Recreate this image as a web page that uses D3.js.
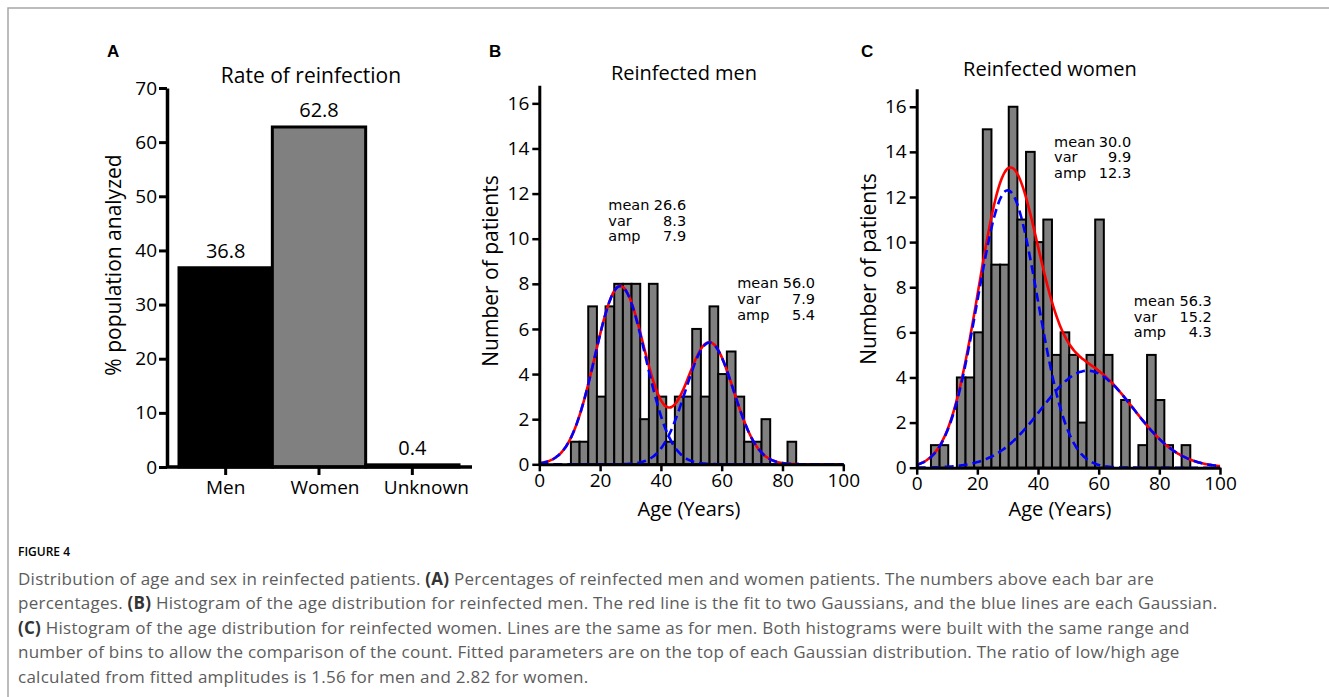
<!DOCTYPE html>
<html>
<head>
  <meta charset="utf-8">
  <title>Figure 4 - reinfection by age and sex</title>
  <script src="https://cdnjs.cloudflare.com/ajax/libs/d3/7.8.5/d3.min.js"></script>
</head>
<style>
  body { margin: 0; background: #fff; }
  svg { display: block; }
  text { font-family: "Open Sans", sans-serif; fill: #000; }
  .axis path, .axis line { stroke: #000; }
  .axis text { font-size: 19px; font-family: "Open Sans", sans-serif; }
  .note text { font-family: "DejaVu Sans", sans-serif; font-size: 14.5px; }
  .letter { font-family: "Liberation Sans", Arial, sans-serif; font-weight: bold; font-size: 17px; }
  .caption { font-size: 17px; letter-spacing: 0.25px; fill: #5c5c5c; }
</style>
<body>
<svg id="svg" width="1329" height="697"></svg>
<script type="text/javascript">
  // panel A
  const categories = ['Men', 'Women', 'Unknown'];
  const rates = [36.8, 62.8, 0.4];
  const rateTicks = [0, 10, 20, 30, 40, 50, 60, 70];

  // panels B and C: same 30 bins for both sexes
  const binEdges = [4.7, 7.55, 10.4, 13.25, 16.1, 18.95, 21.8, 24.65, 27.5, 30.35, 33.2,
    36.05, 38.9, 41.75, 44.6, 47.45, 50.3, 53.15, 56.0, 58.85, 61.7, 64.55, 67.4, 70.25,
    73.1, 75.95, 78.8, 81.65, 84.5, 87.35, 90.2];
  const menCounts = [0, 0, 1, 1, 7, 3, 7, 8, 8, 8, 2, 8, 3, 1, 3, 3, 6, 3, 7, 4, 5, 3, 1, 1, 2, 0, 0, 1, 0, 0];
  const womenCounts = [1, 1, 0, 4, 4, 6, 15, 9, 9, 16, 11, 14, 10, 11, 5, 6, 5, 2, 5, 11, 5, 0, 3, 0, 1, 5, 3, 1, 0, 1];
  const menFit = [{ mean: 26.6, sd: 8.3, amp: 7.9 }, { mean: 56.0, sd: 7.9, amp: 5.4 }];
  const womenFit = [{ mean: 30.0, sd: 9.9, amp: 12.3 }, { mean: 56.3, sd: 15.2, amp: 4.3 }];
  const ageTicks = [0, 20, 40, 60, 80, 100];
  const countTicks = [0, 2, 4, 6, 8, 10, 12, 14, 16];

  const captionLines = [
    [['Distribution of age and sex in reinfected patients. ', 0], ['(A)', 1], [' Percentages of reinfected men and women patients. The numbers above each bar are', 0]],
    [['percentages. ', 0], ['(B)', 1], [' Histogram of the age distribution for reinfected men. The red line is the fit to two Gaussians, and the blue lines are each Gaussian.', 0]],
    [['(C)', 1], [' Histogram of the age distribution for reinfected women. Lines are the same as for men. Both histograms were built with the same range and', 0]],
    [['number of bins to allow the comparison of the count. Fitted parameters are on the top of each Gaussian distribution. The ratio of low/high age', 0]],
    [['calculated from fitted amplitudes is 1.56 for men and 2.82 for women.', 0]]
  ];

  const svg = d3.select('svg');

  // frame round the figure
  svg.append('path')
    .attr('d', 'M8,697V8H1329')
    .attr('fill', 'none')
    .attr('stroke', '#a6a6a6')
    .attr('stroke-width', 1.5);

  function styleAxis(g, w) {
    g.attr('class', 'axis');
    g.select('.domain').attr('stroke-width', w);
    g.selectAll('.tick line').attr('stroke-width', w - 0.5);
  }

  // ---------- A: bars ----------
  const yA = d3.scaleLinear().domain([0, 70]).range([467, 88]);
  const xA = d3.scaleBand().domain(categories).range([179, 459]).padding(0);
  const colA = { Men: '#000', Women: '#808080', Unknown: '#000' };
  const labelShift = { Men: 0, Women: 6, Unknown: 14 };

  svg.append('g').selectAll('rect')
    .data(rates)
    .enter()
    .append('rect')
    .attr('x', (d, i) => xA(categories[i]))
    .attr('width', xA.bandwidth())
    .attr('y', d => yA(d))
    .attr('height', d => yA(0) - yA(d))
    .attr('fill', (d, i) => colA[categories[i]])
    .attr('stroke', '#000')
    .attr('stroke-width', 3);

  svg.append('g').selectAll('text')
    .data(rates)
    .enter()
    .append('text')
    .attr('x', (d, i) => xA(categories[i]) + xA.bandwidth() / 2)
    .attr('y', d => yA(d) - 10)
    .attr('text-anchor', 'middle')
    .attr('font-size', 20)
    .text(d => d.toFixed(1));

  const gyA = svg.append('g').attr('transform', 'translate(167,0)')
    .call(d3.axisLeft(yA).tickValues(rateTicks).tickSize(8).tickSizeOuter(0).tickPadding(2));
  styleAxis(gyA, 3.5);
  gyA.selectAll('text').attr('font-size', 21);

  const gxA = svg.append('g').attr('transform', 'translate(0,467)')
    .call(d3.axisBottom(xA).tickSize(8).tickSizeOuter(0).tickPadding(6));
  styleAxis(gxA, 3.5);
  gxA.select('.domain').attr('d', 'M167,0H472');
  gxA.selectAll('text').attr('font-size', 20).attr('dx', d => labelShift[d]);

  svg.append('text').attr('x', 311).attr('y', 83).attr('text-anchor', 'middle')
    .attr('font-size', 21).text('Rate of reinfection');
  svg.append('text').attr('transform', 'translate(121,265) rotate(-90)').attr('text-anchor', 'middle')
    .attr('font-size', 21).text('% population analyzed');

  // ---------- B and C: histograms ----------
  const gauss = (p, a) => p.amp * Math.exp(-((a - p.mean) ** 2) / (2 * p.sd * p.sd));
  const curveAges = d3.range(0, 100.001, 0.5);

  function histogram(opt) {
    const x = d3.scaleLinear().domain([0, 100]).range([opt.left, opt.right]);
    const y = d3.scaleLinear().domain([0, 16.8]).range([opt.bottom, opt.top]);
    const g = svg.append('g');

    const bins = opt.counts.map((c, i) => ({ x0: binEdges[i], x1: binEdges[i + 1], c: c }))
      .filter(d => d.c > 0);
    g.selectAll('rect')
      .data(bins)
      .enter()
      .append('rect')
      .attr('x', d => x(d.x0))
      .attr('width', d => x(d.x1) - x(d.x0))
      .attr('y', d => y(d.c))
      .attr('height', d => y(0) - y(d.c))
      .attr('fill', '#808080')
      .attr('stroke', '#000')
      .attr('stroke-width', 2);

    const line = d3.line().x(d => x(d[0])).y(d => y(d[1])).curve(d3.curveBasis);
    g.append('path')
      .datum(curveAges.map(a => [a, d3.sum(opt.fit, p => gauss(p, a))]))
      .attr('d', line)
      .attr('fill', 'none')
      .attr('stroke', '#ff0000')
      .attr('stroke-width', 2.6);
    opt.fit.forEach(p => {
      g.append('path')
        .datum(curveAges.map(a => [a, gauss(p, a)]))
        .attr('d', line)
        .attr('fill', 'none')
        .attr('stroke', '#0000ff')
        .attr('stroke-width', 2.6)
        .attr('stroke-dasharray', '9,5');
    });

    const gx = svg.append('g').attr('transform', `translate(0,${opt.bottom})`)
      .call(d3.axisBottom(x).tickValues(ageTicks).tickSize(7).tickSizeOuter(0).tickPadding(2));
    styleAxis(gx, 3);
    const gy = svg.append('g').attr('transform', `translate(${opt.left},0)`)
      .call(d3.axisLeft(y).tickValues(countTicks).tickSize(7).tickSizeOuter(0).tickPadding(3));
    styleAxis(gy, 3);

    // fitted parameters over each gaussian
    opt.fit.forEach((p, k) => {
      const n = opt.notes[k];
      const rows = [['mean', p.mean.toFixed(1)], ['var', p.sd.toFixed(1)], ['amp', p.amp.toFixed(1)]];
      const gn = g.append('g').attr('class', 'note');
      rows.forEach((r, j) => {
        gn.append('text').attr('x', x(n.x0)).attr('y', y(n.y) + j * 15.6).text(r[0]);
        gn.append('text').attr('x', x(n.x1)).attr('y', y(n.y) + j * 15.6)
          .attr('text-anchor', 'end').text(r[1]);
      });
    });

    svg.append('text').attr('x', opt.titleX).attr('y', opt.titleY).attr('text-anchor', 'middle')
      .attr('font-size', 20).text(opt.title);
    svg.append('text').attr('x', opt.xlabX).attr('y', 516).attr('text-anchor', 'middle')
      .attr('font-size', 20).text('Age (Years)');
    svg.append('text').attr('transform', `translate(${opt.ylabX},${opt.ylabY}) rotate(-90)`)
      .attr('text-anchor', 'middle').attr('font-size', 21).text('Number of patients');
  }

  histogram({
    left: 539.3, right: 843.3, top: 85.3, bottom: 464.3, counts: menCounts, fit: menFit,
    notes: [{ x0: 22.7, x1: 48.3, y: 11.27 }, { x0: 65.1, x1: 90.7, y: 7.8 }],
    title: 'Reinfected men', titleX: 684, titleY: 80, xlabX: 689,
    ylabX: 498, ylabY: 271
  });
  histogram({
    left: 916.7, right: 1220, top: 88.7, bottom: 467.7, counts: womenCounts, fit: womenFit,
    notes: [{ x0: 45.3, x1: 70.7, y: 14.23 }, { x0: 71.6, x1: 97.3, y: 7.17 }],
    title: 'Reinfected women', titleX: 1050, titleY: 76, xlabX: 1060,
    ylabX: 876, ylabY: 269
  });

  // panel letters
  [['A', 107, 57], ['B', 489, 57], ['C', 861, 57]].forEach(l => {
    svg.append('text').attr('class', 'letter').attr('x', l[1]).attr('y', l[2]).text(l[0]);
  });

  // ---------- caption ----------
  svg.append('text').attr('x', 18).attr('y', 556)
    .attr('font-size', 12).attr('font-weight', 600).attr('fill', '#555')
    .text('FIGURE 4');
  captionLines.forEach((parts, i) => {
    const t = svg.append('text').attr('class', 'caption').attr('x', 18).attr('y', 585 + i * 24.4);
    parts.forEach(p => {
      t.append('tspan').attr('font-weight', p[1] ? 700 : 400)
        .attr('fill', p[1] ? '#333' : '#5c5c5c').text(p[0]);
    });
  });
</script>
</body>
</html>
